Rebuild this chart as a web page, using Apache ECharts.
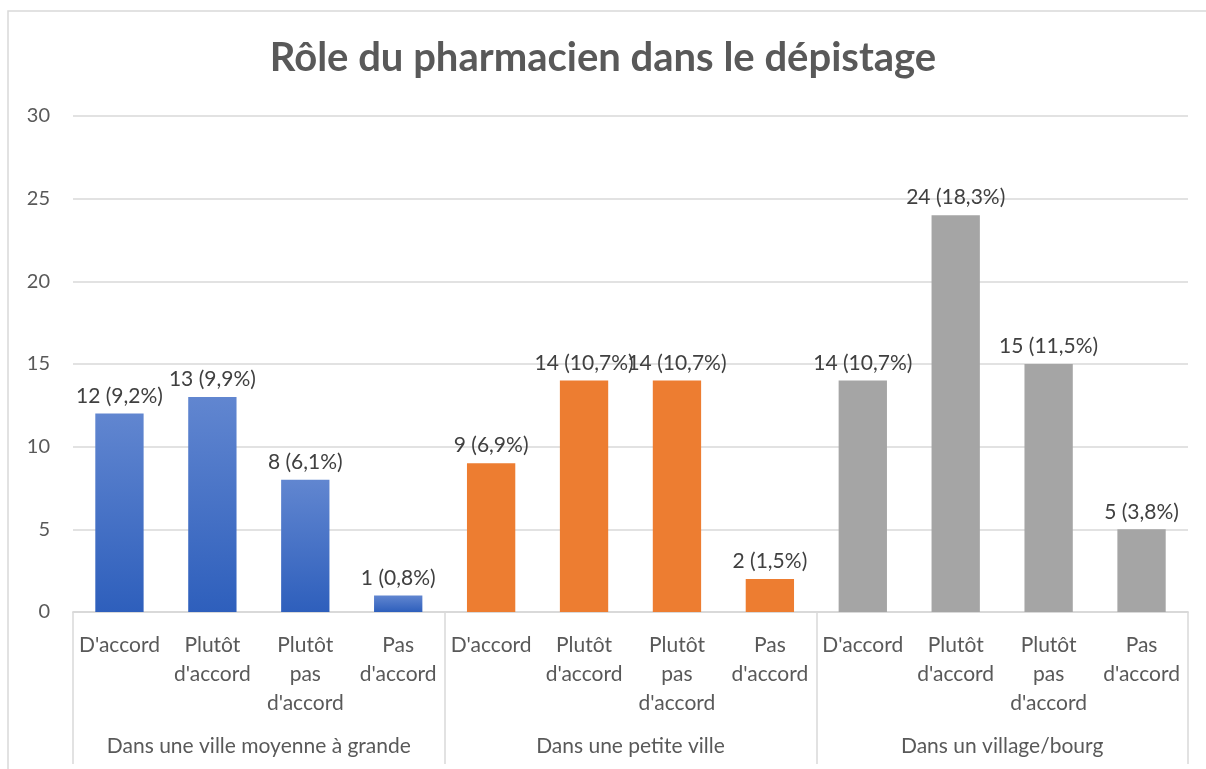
<!DOCTYPE html>
<html>
<head>
<meta charset="utf-8">
<script src="https://cdn.jsdelivr.net/npm/echarts@6/dist/echarts.min.js"></script>
<style>
  html, body { margin: 0; padding: 0; background: #fff; }
  #main { width: 1206px; height: 769px; }
</style>
</head>
<body>
<div id="main"></div>
<script>
var categories = ["D'accord", "Plutôt\nd'accord", "Plutôt\npas\nd'accord", "Pas\nd'accord",
                  "D'accord", "Plutôt\nd'accord", "Plutôt\npas\nd'accord", "Pas\nd'accord",
                  "D'accord", "Plutôt\nd'accord", "Plutôt\npas\nd'accord", "Pas\nd'accord"];
var groups = ['Dans une ville moyenne à grande', 'Dans une petite ville', 'Dans un village/bourg'];
var values = [12, 13, 8, 1, 9, 14, 14, 2, 14, 24, 15, 5];
var percents = ['9,2', '9,9', '6,1', '0,8', '6,9', '10,7', '10,7', '1,5', '10,7', '18,3', '11,5', '3,8'];

var font = 'Lato';
var groupColors = [
    new echarts.graphic.LinearGradient(0, 0, 0, 1, [
        { offset: 0, color: '#6186d0' },
        { offset: 1, color: '#2e5fbc' }
    ]),
    '#ed7d31',
    '#a5a5a5'
];

var myChart = echarts.init(document.getElementById('main'));

var barData = values.map(function (v, i) {
    return {
        value: v,
        itemStyle: { color: groupColors[Math.floor(i / 4)] },
        label: { formatter: v + ' (' + percents[i] + '%)' }
    };
});

var option = {
    backgroundColor: '#fff',
    graphic: [{
        type: 'rect',
        shape: { x: 8, y: 11, width: 1220, height: 800 },
        style: { fill: 'none', stroke: '#d9d9d9', lineWidth: 1.5 },
        silent: true
    }],
    title: {
        text: 'Rôle du pharmacien dans le dépistage',
        left: 'center',
        top: 33,
        textStyle: { fontFamily: font, fontSize: 40, fontWeight: 'bold', color: '#595959' }
    },
    grid: { left: 73, right: 18, top: 116, bottom: 157 },
    xAxis: [
        {
            type: 'category',
            data: categories,
            axisLine: { lineStyle: { color: '#d9d9d9', width: 1.5 } },
            axisTick: { show: false },
            axisLabel: {
                interval: 0,
                margin: 19,
                fontFamily: font,
                fontSize: 21,
                lineHeight: 29,
                color: '#595959'
            }
        },
        {
            type: 'category',
            position: 'bottom',
            data: groups,
            axisLine: { show: true, lineStyle: { color: '#d9d9d9', width: 1.5 } },
            axisTick: { show: true, interval: 0, length: 152, lineStyle: { color: '#d9d9d9', width: 1.5 } },
            axisLabel: {
                interval: 0,
                margin: 124,
                fontFamily: font,
                fontSize: 21,
                color: '#595959'
            }
        }
    ],
    yAxis: {
        type: 'value',
        min: 0,
        max: 30,
        interval: 5,
        axisLine: { show: false },
        axisTick: { show: false },
        splitLine: { lineStyle: { color: '#d9d9d9', width: 1.5 } },
        axisLabel: { margin: 23, fontFamily: font, fontSize: 20, color: '#595959' }
    },
    series: [{
        type: 'bar',
        xAxisIndex: 0,
        barWidth: '52%',
        data: barData,
        label: {
            show: true,
            position: 'top',
            distance: 7,
            fontFamily: font,
            fontSize: 21,
            color: '#404040'
        }
    }]
};

myChart.setOption(option);
</script>
</body>
</html>
